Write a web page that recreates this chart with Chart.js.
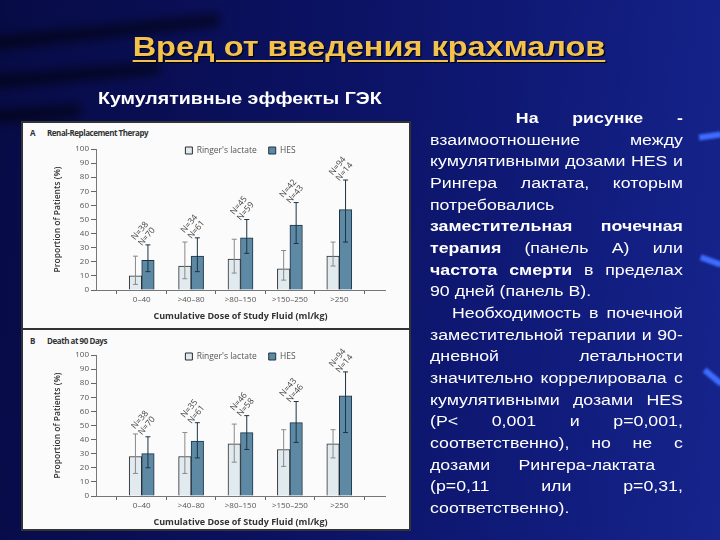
<!DOCTYPE html>
<html>
<head>
<meta charset="utf-8">
<script src="https://cdn.jsdelivr.net/npm/chart.js@4.4.1/dist/chart.umd.min.js"></script>
<style>
body{margin:0;width:720px;height:540px;overflow:hidden;position:relative;
  font-family:"Liberation Sans",Arial,sans-serif;
  background:linear-gradient(95deg,#070b45 0%,#0b1160 40%,#101b7a 75%,#16248c 100%);}
.streak{position:absolute;height:14px;background:rgba(0,0,0,0.5);filter:blur(5px);transform-origin:0 0;}
.dash{position:absolute;width:22px;height:6px;background:#3d6cff;filter:blur(1px);}
#title{position:absolute;left:0;top:31px;width:738px;text-align:center;font-weight:bold;font-size:28px;
  color:#f2c24c;text-decoration:underline;text-decoration-thickness:2px;text-underline-offset:4px;
  text-shadow:1px 1px 1px #000;transform:scaleX(1.16);transform-origin:369px 0;}
#sub{position:absolute;left:98px;top:89px;font-weight:bold;font-size:17px;color:#fff;
  transform:scaleX(1.15);transform-origin:0 0;}
#txt{position:absolute;left:430px;top:107px;width:218px;color:#fff;font-size:15.3px;line-height:21.67px;
  transform:scaleX(1.16);transform-origin:0 0;}
#txt div{height:21.67px;white-space:nowrap;}
#txt .j{text-align:justify;text-align-last:justify;}
#fig{position:absolute;left:21px;top:121px;width:386px;height:406px;background:#fbfbfb;border:2px solid #333;}
#sep{position:absolute;left:21px;top:328px;width:390px;height:2px;background:#333;}
.ptitle{position:absolute;font-family:"Open Sans","DejaVu Sans",sans-serif;font-weight:bold;font-size:8px;
  color:#333;letter-spacing:-0.45px;line-height:10px;}
canvas{position:absolute;}
</style>
</head>
<body>
<div class="streak" style="left:-40px;top:40px;width:260px;transform:rotate(-6deg)"></div>
<div class="streak" style="left:-40px;top:78px;width:200px;transform:rotate(-5deg)"></div>
<div class="streak" style="left:-40px;top:112px;width:120px;transform:rotate(-4deg)"></div>
<div class="dash" style="left:699px;top:133px;transform:rotate(-8deg)"></div>
<div class="dash" style="left:700px;top:258px;transform:rotate(20deg)"></div>
<div class="dash" style="left:702px;top:374px;transform:rotate(40deg)"></div>

<div id="title">Вред от введения крахмалов</div>
<div id="sub">Кумулятивные эффекты ГЭК</div>

<div id="txt">
<div class="j" style="padding-left:74px"><b>На рисунке -</b></div>
<div class="j">взаимоотношение между</div>
<div class="j">кумулятивными дозами HES и</div>
<div class="j">Рингера лактата, которым</div>
<div>потребовались</div>
<div class="j"><b>заместительная почечная</b></div>
<div class="j"><b>терапия</b> (панель А) или</div>
<div class="j"><b>частота смерти</b> в пределах</div>
<div>90 дней (панель В).</div>
<div class="j" style="padding-left:19px">Необходимость в почечной</div>
<div class="j">заместительной терапии и 90-</div>
<div class="j">дневной летальности</div>
<div class="j">значительно коррелировала с</div>
<div class="j">кумулятивными дозами HES</div>
<div class="j">(P&lt; 0,001 и p=0,001,</div>
<div class="j">соответственно), но не с</div>
<div class="j" style="padding-right:24px">дозами Рингера-лактата</div>
<div class="j">(p=0,11 или p=0,31,</div>
<div>соответственно).</div>
</div>

<div id="fig"></div>
<div id="sep"></div>
<div class="ptitle" style="left:30px;top:128px">A</div>
<div class="ptitle" style="left:47px;top:128px">Renal-Replacement Therapy</div>
<div class="ptitle" style="left:30px;top:336px">B</div>
<div class="ptitle" style="left:47px;top:336px">Death at 90 Days</div>
<canvas id="chartA" width="386" height="204" style="left:23px;top:118px"></canvas>
<canvas id="chartB" width="386" height="204" style="left:23px;top:324px"></canvas>

<script>
const categories = ['0–40', '>40–80', '>80–150', '>150–250', '>250'];
const seriesNames = ["Ringer's lactate", 'HES'];

// panel A: renal-replacement therapy, % of patients
const rrtRinger   = [10, 17, 22, 15, 24];
const rrtRingerLo = [4, 8, 12, 7, 17];
const rrtRingerHi = [24, 34, 36, 28, 34];
const rrtHes      = [21, 24, 37, 46, 57];
const rrtHesLo    = [13, 13, 26, 33, 34];
const rrtHesHi    = [32, 37, 50, 62, 78];
const rrtRingerN  = [38, 34, 45, 42, 94];
const rrtHesN     = [70, 61, 59, 43, 14];

// panel B: death at 90 days, % of patients
const deathRinger   = [28, 28, 37, 33, 37];
const deathRingerLo = [16, 16, 24, 21, 27];
const deathRingerHi = [44, 45, 51, 47, 47];
const deathHes      = [30, 39, 45, 52, 71];
const deathHesLo    = [20, 27, 33, 38, 45];
const deathHesHi    = [42, 52, 57, 67, 88];
const deathRingerN  = [38, 35, 46, 43, 94];
const deathHesN     = [70, 61, 58, 46, 14];

const yMax = 100;
const yStep = 10;

const font = '"Open Sans", "DejaVu Sans", sans-serif';

// error bars, drawn from each dataset's lo/hi arrays
const errorBars = {
  id: 'errorBars',
  afterDatasetsDraw(chart) {
    const ctx = chart.ctx;
    const y = chart.scales.y;
    chart.data.datasets.forEach((ds, di) => {
      const meta = chart.getDatasetMeta(di);
      meta.data.forEach((bar, i) => {
        const top = y.getPixelForValue(ds.hi[i]);
        const bot = y.getPixelForValue(ds.lo[i]);
        ctx.save();
        ctx.strokeStyle = ds.errColor;
        ctx.lineWidth = 1;
        ctx.beginPath();
        ctx.moveTo(bar.x, top); ctx.lineTo(bar.x, bot);
        ctx.moveTo(bar.x - 2.5, top); ctx.lineTo(bar.x + 2.5, top);
        ctx.moveTo(bar.x - 2.5, bot); ctx.lineTo(bar.x + 2.5, bot);
        ctx.stroke();
        ctx.restore();
      });
    });
  }
};

// rotated "N=.." labels above each group
const nLabels = {
  id: 'nLabels',
  afterDatasetsDraw(chart) {
    const ctx = chart.ctx;
    const y = chart.scales.y;
    const d0 = chart.data.datasets[0], d1 = chart.data.datasets[1];
    const m0 = chart.getDatasetMeta(0), m1 = chart.getDatasetMeta(1);
    m0.data.forEach((bar, i) => {
      const cx = (bar.x + m1.data[i].x) / 2;
      const top = y.getPixelForValue(Math.max(d0.hi[i], d1.hi[i]));
      ctx.save();
      ctx.translate(cx - 5, top - 3);
      ctx.rotate(-50 * Math.PI / 180);
      ctx.font = '8.5px ' + font;
      ctx.fillStyle = '#444';
      ctx.textAlign = 'left';
      ctx.textBaseline = 'middle';
      ctx.fillText('N=' + d0.n[i], 0, -4.5);
      ctx.fillText('N=' + d1.n[i], 0, 4.5);
      ctx.restore();
    });
  }
};

// the legend sits inside the plot, level with the top tick
const legendDown = {
  id: 'legendDown',
  afterLayout(chart) {
    const l = chart.legend;
    const h = l.bottom - l.top;
    l.top = chart.chartArea.top - 14.75;
    l.bottom = l.top + h;
  }
};

function makeChart(id, ringer, rLo, rHi, rN, hes, hLo, hHi, hN) {
  new Chart(document.getElementById(id), {
    type: 'bar',
    data: {
      datasets: [
        {
          label: seriesNames[0],
          data: ringer.map((v, i) => ({x: i, y: v})),
          lo: rLo, hi: rHi, n: rN,
          errColor: '#8a8a8a',
          backgroundColor: '#e0eaef',
          borderColor: '#2a2a2a',
          borderWidth: 1,
          barThickness: 12.5
        },
        {
          label: seriesNames[1],
          data: hes.map((v, i) => ({x: i, y: v})),
          lo: hLo, hi: hHi, n: hN,
          errColor: '#1d3343',
          backgroundColor: '#5e89a5',
          borderColor: '#1d3343',
          borderWidth: 1,
          barThickness: 12.5
        }
      ]
    },
    options: {
      responsive: false,
      animation: false,
      layout: {padding: {left: 7, right: 24, top: 0.5, bottom: 0}},
      plugins: {
        tooltip: {enabled: false},
        title: {display: false},
        legend: {
          position: 'top', align: 'center', fullSize: false,
          labels: {
            boxWidth: 7, boxHeight: 7, padding: 12,
            color: '#555', font: {family: font, size: 8.5}
          }
        }
      },
      scales: {
        x: {
          type: 'linear', min: -0.34, max: categories.length - 1 + 0.34,
          afterFit(s) { s.height = 32; },
          grid: {drawOnChartArea: false, drawTicks: true, tickLength: 4, color: '#666'},
          border: {color: '#777'},
          ticks: {
            stepSize: 1, includeBounds: false, autoSkip: false, maxRotation: 0, padding: 1,
            color: '#555', font: {family: font, size: 8},
            callback: v => categories[v]
          },
          title: {
            display: true, text: 'Cumulative Dose of Study Fluid (ml/kg)',
            color: '#333', font: {family: font, size: 9, weight: 'bold'},
            padding: {top: 0, bottom: 0}
          }
        },
        y: {
          min: 0, max: yMax,
          afterFit(s) { s.width = 66; },
          grid: {drawOnChartArea: false, drawTicks: true, tickLength: 5, color: '#666'},
          border: {color: '#777'},
          ticks: {stepSize: yStep, padding: 2, color: '#555', font: {family: font, size: 8}},
          title: {
            display: true, text: 'Proportion of Patients (%)',
            color: '#333', font: {family: font, size: 8.5, weight: '600'},
            padding: {top: 22, bottom: 0}
          }
        }
      }
    },
    plugins: [errorBars, nLabels, legendDown]
  });
}

makeChart('chartA', rrtRinger, rrtRingerLo, rrtRingerHi, rrtRingerN, rrtHes, rrtHesLo, rrtHesHi, rrtHesN);
makeChart('chartB', deathRinger, deathRingerLo, deathRingerHi, deathRingerN, deathHes, deathHesLo, deathHesHi, deathHesN);
</script>
</body>
</html>
